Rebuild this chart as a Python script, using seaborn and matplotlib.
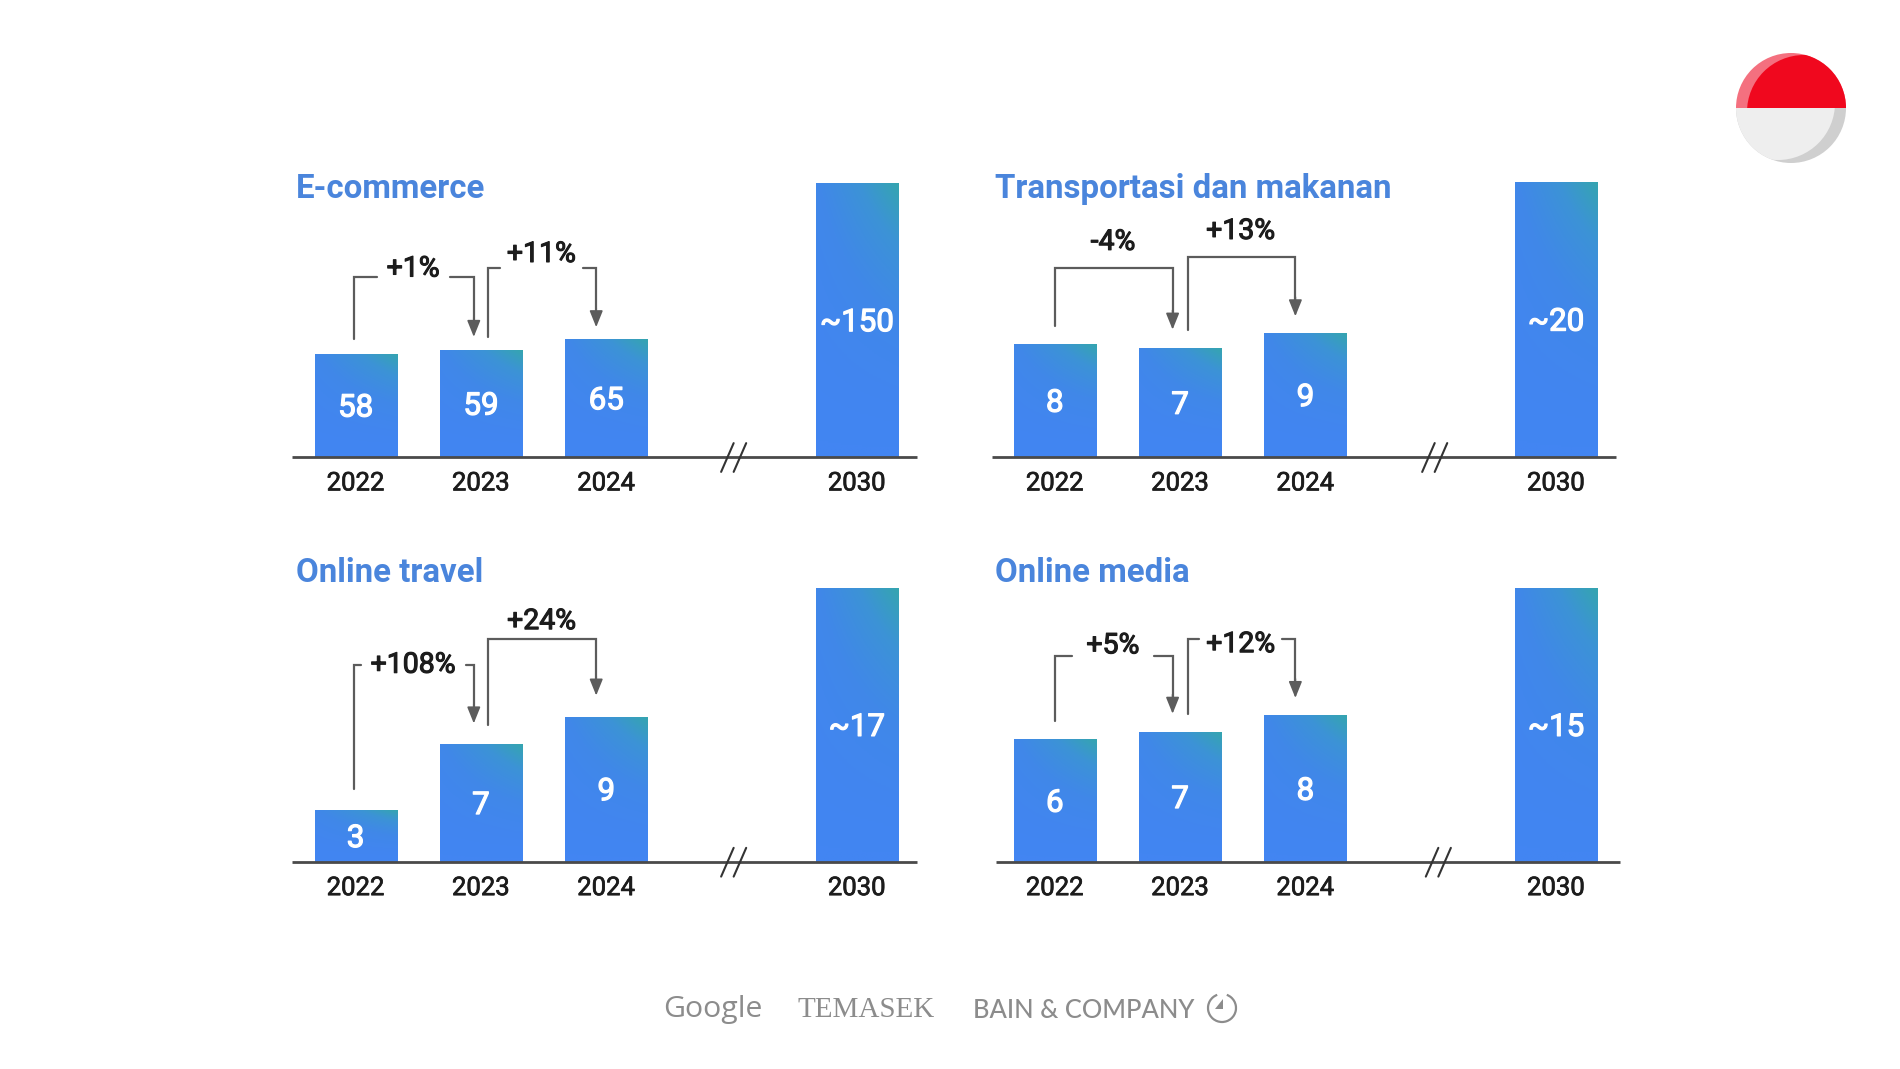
import matplotlib
matplotlib.use("Agg")
import matplotlib.pyplot as plt
import matplotlib.patheffects as pe
from matplotlib.patches import Arc, Circle, Polygon, Wedge
from matplotlib.colors import LinearSegmentedColormap
import numpy as np
import pandas as pd
import seaborn as sns

sns.set_theme(style="white")
plt.rcParams["font.family"] = ["Roboto", "DejaVu Sans"]

# Chart data, heights (printed labels are rounded)
years = ["2022", "2023", "2024", "2030"]
slots = [0, 1, 2, 4]  # axis is broken between 2024 and 2030

titles = ["E-commerce", "Transportasi dan makanan", "Online travel", "Online media"]
ecommerce = [56.5, 58.5, 64.5, 150]
transport = [8.2, 7.9, 9.0, 20]
travel = [3.2, 7.3, 9.0, 17]
media = [6.7, 7.1, 8.0, 15]
ecommerce_labels = ["58", "59", "65", "~150"]
transport_labels = ["8", "7", "9", "~20"]
travel_labels = ["3", "7", "9", "~17"]
media_labels = ["6", "7", "8", "~15"]

# growth label, start x, end x, start y, top y, end y, label x, label y, gap half width
# x in slots, y in reference px above the baseline
ecommerce_growth = [("+1%", -0.015, 0.943, 97, 148, 99, 0.46, 155, 0.29),
                    ("+11%", 1.06, 1.92, 99, 156, 107, 1.484, 167, 0.33)]
transport_growth = [("-4%", 0.0, 0.94, 108, 156, 105, 0.464, 177, 0),
                    ("+13%", 1.06, 1.92, 105, 165, 116, 1.484, 186, 0)]
travel_growth = [("+108%", -0.015, 0.943, 60, 162, 114, 0.46, 162, 0.42),
                 ("+24%", 1.06, 1.92, 113, 184, 137, 1.484, 198, 0)]
media_growth = [("+5%", 0.0, 0.94, 116, 170, 122, 0.464, 178, 0.33),
                ("+12%", 1.06, 1.92, 122, 184, 135, 1.484, 179, 0.33)]

# layout, reference px at 1568 wide
SCALE = 1900 / 1568
SLOT = 103.4
centers = [293.5, 870.5, 293.5, 870.5]
baselines = [377, 377, 711, 711]
bar_px = [226, 227, 226, 226]
spans = [(-0.508, 4.482), (-0.498, 4.482), (-0.508, 4.482), (-0.469, 4.511)]
breaks = [3.017, 3.032, 3.017, 3.061]
title_px = [221, 221, 238, 238]

TITLE_BLUE = "#4A85DC"
LINE = "#5C5C5C"
gradient = LinearSegmentedColormap.from_list(
    "bar", ["#4285F2", "#4088E8", "#3C93D6", "#35A5B0"])

fig = plt.figure(figsize=(19, 10.69), dpi=100, facecolor="white")


def medium(color, width=0.5):
    # Roboto only resolves to regular or bold here, thicken the regular a little
    return [pe.withStroke(linewidth=width, foreground=color)]


def add_gradient(ax, patch):
    x, y, w, h = patch.get_x(), patch.get_y(), patch.get_width(), patch.get_height()
    u, v = np.meshgrid(np.linspace(0, 1, 64), np.linspace(0, 1, 128))
    t = v ** 1.6 * (0.3 + 0.7 * u)
    im = ax.imshow(t, cmap=gradient, origin="lower", aspect="auto", vmin=0, vmax=1,
                   extent=(x, x + w, y, y + h), zorder=2)
    im.set_clip_path(patch)


def add_bracket(ax, growth, px_h):
    label, x0, x1, y0, ytop, y1, lx, ly, gap = growth
    tr = ax.get_xaxis_transform()
    y0, ytop, y1, ly = y0 / px_h, ytop / px_h, y1 / px_h, ly / px_h
    if gap:
        ax.plot([x0, x0, lx - gap], [y0, ytop, ytop], color=LINE, lw=1.6, transform=tr,
                clip_on=False, solid_joinstyle="miter")
        ax.plot([lx + gap, x1, x1], [ytop, ytop, y1 + 0.03], color=LINE, lw=1.6, transform=tr,
                clip_on=False, solid_joinstyle="miter")
    else:
        ax.plot([x0, x0, x1, x1], [y0, ytop, ytop, y1 + 0.03], color=LINE, lw=1.6, transform=tr,
                clip_on=False, solid_joinstyle="miter")
    ax.annotate("", xy=(x1, y1), xytext=(x1, y1 + 0.07), xycoords=tr, textcoords=tr,
                arrowprops=dict(arrowstyle="-|>,head_length=0.67,head_width=0.27", color=LINE,
                                lw=1.2, mutation_scale=15, shrinkA=0, shrinkB=0))
    ax.text(lx, ly, label, transform=tr, ha="center", va="center", fontsize=20.5,
            color="#1C1C1C", path_effects=medium("#1C1C1C", 0.8))


panels = [
    (ecommerce, ecommerce_labels, ecommerce_growth),
    (transport, transport_labels, transport_growth),
    (travel, travel_labels, travel_growth),
    (media, media_labels, media_growth),
]

for i, (values, labels, growth) in enumerate(panels):
    left = (centers[i] - 0.6 * SLOT) * SCALE / 1900
    width = 5.2 * SLOT * SCALE / 1900
    bottom = 1 - baselines[i] * SCALE / 1069
    height = bar_px[i] * SCALE / 1069
    ax = fig.add_axes([left, bottom, width, height], facecolor="none")

    df = pd.DataFrame({"slot": slots, "value": values})
    sns.barplot(data=df, x="slot", y="value", native_scale=True, width=0.655,
                color="#4285F2", saturation=1, ax=ax)
    for patch in ax.patches:
        add_gradient(ax, patch)

    ax.set_xlim(-0.6, 4.6)
    ax.set_ylim(0, max(values))
    ax.set_xticks(slots, years)
    ax.set_yticks([])
    ax.set_xlabel("")
    ax.set_ylabel("")
    ax.tick_params(axis="x", length=0, pad=10.5, labelsize=18.5, labelcolor="#1C1C1C")
    for tick in ax.get_xticklabels():
        tick.set_path_effects(medium("#1C1C1C", 0.5))
    sns.despine(ax=ax, left=True, bottom=True)

    # baseline with the break mark
    ax.plot(spans[i], [0, 0], color="#4A4A4A", lw=2, clip_on=False, zorder=3,
            solid_capstyle="butt")
    tr = ax.get_xaxis_transform()
    for off in (-0.05, 0.05):
        ax.plot([breaks[i] + off - 0.05, breaks[i] + off + 0.05], [-0.055, 0.05], color="#333333",
                lw=1.5, transform=tr, clip_on=False, zorder=4)

    for slot, value, label in zip(slots, values, labels):
        ax.annotate(label, (slot, value / 2), xytext=(0, -2), textcoords="offset points",
                    ha="center", va="center", color="white", fontsize=22.5, zorder=5,
                    path_effects=medium("white", 0.9))

    for g in growth:
        add_bracket(ax, g, bar_px[i])

    ax.text(-0.479, title_px[i] / bar_px[i], titles[i], transform=tr, ha="left", va="center",
            fontsize=23.8, fontweight="bold", color=TITLE_BLUE)

# overlay in full-size pixels for the logos and the flag
over = fig.add_axes([0, 0, 1, 1], facecolor="none", zorder=10)
over.set_xlim(0, 1900)
over.set_ylim(1069, 0)
over.axis("off")

# flag
fx, fy, r = 1791, 108, 55
top = Wedge((fx, fy), r, 180, 360, color="#F4707F", lw=0)
over.add_patch(top)
red = Circle((fx + 13, fy + 4), r + 2, color="#F0081E", lw=0)
over.add_patch(red)
red.set_clip_path(top)
low = Wedge((fx, fy), r, 0, 180, color="#CFCFCF", lw=0)
over.add_patch(low)
pale = Circle((fx - 13, fy - 5), r + 2, color="#EEEEEE", lw=0)
over.add_patch(pale)
pale.set_clip_path(low)

# partner logos
LOGO = "#8C8C8C"
over.text(663, 1009, "Google", fontsize=21.8, color=LOGO, ha="left", va="center",
          family="Open Sans")
over.text(798, 1010, "TEMASEK", fontsize=21, color=LOGO, ha="left", va="center",
          family="Liberation Serif")
over.text(973, 1010, "BAIN & COMPANY", fontsize=18.4, color=LOGO, ha="left", va="center",
          family="Lato", fontweight="medium")
over.add_patch(Arc((1222, 1008), 28, 28, theta1=-70, theta2=250, color=LOGO, lw=1.6))
over.add_patch(Polygon([(1223, 999), (1223, 1009), (1215, 1009)], closed=True, color=LOGO, lw=0))

fig.savefig("out.png", dpi=100, facecolor="white")
